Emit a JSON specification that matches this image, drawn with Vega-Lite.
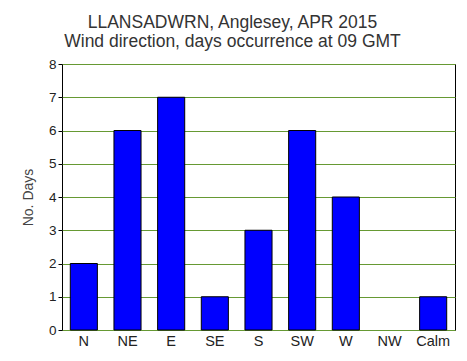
{
  "$schema": "https://vega.github.io/schema/vega-lite/v6.json",
  "width": 393,
  "height": 266,
  "autosize": "none",
  "padding": {"left": 62, "top": 64, "right": 12, "bottom": 31},
  "background": "white",
  "title": {
    "text": ["LLANSADWRN, Anglesey, APR 2015", "Wind direction, days occurrence at 09 GMT"],
    "font": "Liberation Sans",
    "fontSize": 17.5,
    "fontWeight": "normal",
    "color": "#333333",
    "anchor": "middle",
    "dx": -26,
    "offset": 7,
    "lineHeight": 18.5
  },
  "data": {
    "values": [
      {"dir": "N", "days": 2},
      {"dir": "NE", "days": 6},
      {"dir": "E", "days": 7},
      {"dir": "SE", "days": 1},
      {"dir": "S", "days": 3},
      {"dir": "SW", "days": 6},
      {"dir": "W", "days": 4},
      {"dir": "NW", "days": 0},
      {"dir": "Calm", "days": 1}
    ]
  },
  "config": {
    "view": {"stroke": "black", "strokeWidth": 1},
    "font": "Liberation Sans"
  },
  "mark": {"type": "bar", "color": "#0000ff", "stroke": "black"},
  "encoding": {
    "x": {
      "field": "dir",
      "type": "nominal",
      "sort": null,
      "scale": {"paddingInner": 0.38, "paddingOuter": 0.19},
      "axis": {
        "title": null,
        "labelAngle": 0,
        "labelFontSize": 14.5,
        "labelColor": "#222222",
        "ticks": false,
        "domain": false,
        "labelPadding": 4
      }
    },
    "y": {
      "field": "days",
      "type": "quantitative",
      "scale": {"domain": [0, 8], "nice": false},
      "axis": {
        "title": "No. Days",
        "titleFontSize": 14,
        "titleFontWeight": "normal",
        "titleColor": "#444444",
        "titlePadding": 13,
        "values": [0, 1, 2, 3, 4, 5, 6, 7, 8],
        "labelFontSize": 13.5,
        "labelColor": "#222222",
        "grid": true,
        "gridColor": "#669933",
        "gridOpacity": 1,
        "tickSize": 4,
        "tickColor": "black",
        "domain": false,
        "labelPadding": 2
      }
    },
    "strokeWidth": {
      "condition": {"test": "datum.days == 0", "value": 0},
      "value": 1
    }
  }
}
